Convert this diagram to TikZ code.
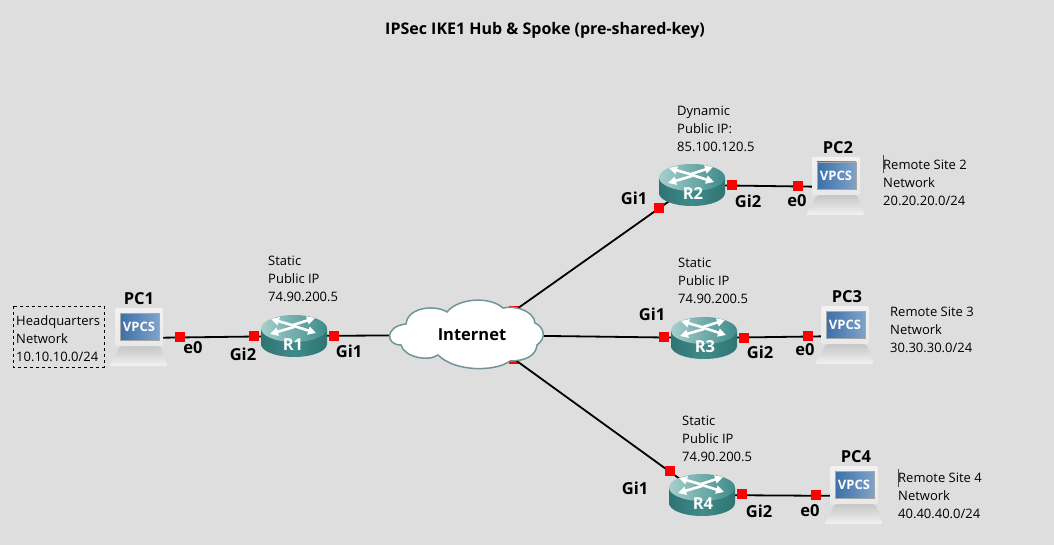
\documentclass[tikz,border=0pt]{standalone}
\usepackage{fontspec}
\setmainfont{Open Sans}
\usetikzlibrary{backgrounds,arrows.meta}
\definecolor{canvas}{HTML}{DEDEDE}
\definecolor{teal1}{HTML}{3F8B8A}
\definecolor{teal2}{HTML}{2F7473}
\definecolor{teallight}{HTML}{A5CFCC}
\definecolor{cloudline}{HTML}{6F9598}
\definecolor{screen1}{HTML}{3C6FA8}
\definecolor{screen2}{HTML}{7FA3C9}
\tikzset{
    link/.style={draw=black, line width=1.8pt},
    port/.style={fill=red, inner sep=0pt, minimum size=10pt},
    ifname/.style={font=\bfseries\fontsize{16.5}{17}\selectfont, inner sep=0pt},
    devname/.style={font=\bfseries\fontsize{16.5}{17}\selectfont, inner sep=0pt},
    note/.style={font=\fontsize{13}{18}\selectfont, inner sep=0pt, anchor=north west, align=left},
    routerspot/.style={inner sep=0pt, minimum width=66pt, minimum height=42pt},
    pcspot/.style={inner sep=0pt, minimum width=46pt, minimum height=58pt},
    arrowline/.style={draw=white, line width=2.6pt, -{Triangle[width=8pt,length=8pt]}},
    routerpic/.pic={
        \shade[left color=teal2, right color=teal2, middle color=teal1] (-33,-7) -- (-33,8) arc[start angle=180, end angle=0, x radius=33, y radius=13] -- (33,-7) -- cycle;
        \shade[left color=teallight, right color=teal1] (0,-7.5) ellipse[x radius=33, y radius=13.5];
        \draw[arrowline] (1,-10) -- (-23,-17);
        \draw[arrowline] (-1,-11) -- (21,-18);
        \draw[arrowline] (0,-9) -- (-24,-2);
        \draw[arrowline] (0,-10) -- (22,-3);
    },
    pcpic/.pic={
        % base of the computer
        \shade[top color=gray!45, bottom color=white!90!gray, rounded corners=2pt] (-19,20) -- (21,20) -- (29,40) -- (-30,40) -- cycle;
        % monitor and screen
        \shade[top color=white!90!gray, bottom color=white!82!gray, rounded corners=2pt] (-24,-18) rectangle (24,20);
        \shade[left color=screen1, right color=screen2, draw=gray!70] (-19,-13) rectangle (20,14);
        \node[text=white, inner sep=0pt, font=\bfseries\fontsize{13}{13}\selectfont] at (0,1) {VPCS};
    },
}
\begin{document}
\begin{tikzpicture}[x=1pt, y=-1pt]
    \useasboundingbox (0,0) rectangle (1054,545);
    \begin{pgfonlayer}{background}
        \fill[canvas] (0,0) rectangle (1054,545);
    \end{pgfonlayer}

    \node[font=\bfseries\fontsize{16}{17}\selectfont, inner sep=0pt] (title) at (545,30) {IPSec IKE1 Hub \& Spoke (pre-shared-key)};

    % devices
    \node[routerspot] (r1) at (294,336) {};
    \node[routerspot] (r2) at (692,185) {};
    \node[routerspot] (r3) at (704,338) {};
    \node[routerspot] (r4) at (702,495) {};
    \node[pcspot] (pc1) at (139,338) {};
    \node[pcspot] (pc2) at (838,187) {};
    \node[pcspot] (pc3) at (847,336) {};
    \node[pcspot] (pc4) at (856,496) {};
    \foreach \rx/\ry in {294/336, 692/185, 704/338, 702/495} {
        \pic at (\rx,\ry) {routerpic};
    }
    \foreach \px/\py in {139/326, 836/175, 845/324, 854/484} {
        \pic at (\px,\py) {pcpic};
    }
    \node[text=white, devname] at (293,345) {R1};
    \node[text=white, devname] at (693,194) {R2};
    \node[text=white, devname] at (705,347) {R3};
    \node[text=white, devname] at (703,504) {R4};
    \node[devname] at (139,299) {PC1};
    \node[devname] at (838,148) {PC2};
    \node[devname] at (847,297) {PC3};
    \node[devname] at (856,457) {PC4};

    % internet cloud
    \fill[white, draw=cloudline, line width=1.5pt]
        (406,324) .. controls (385,326) and (385,345) .. (401,345)
        .. controls (404,357) and (428,362) .. (438,355)
        .. controls (455,372) and (495,372) .. (510,361)
        .. controls (525,361) and (536,356) .. (537,345)
        .. controls (547,338) and (544,327) .. (535,323)
        .. controls (534,311) and (515,305) .. (503,308)
        .. controls (490,296) and (458,298) .. (447,312)
        .. controls (437,305) and (408,306) .. (406,324) -- cycle;
    \node[font=\bfseries\fontsize{16.5}{17}\selectfont, inner sep=0pt] (inet) at (472,335) {Internet};

    % ports, the two on the cloud stay behind it
    \begin{pgfonlayer}{background}
        \node[port] (inr2) at (514,311) {};
        \node[port] (inr4) at (514,359) {};
        \draw[link] (pc1.center) -- (r1.center);
        \draw[link] (r1.center) -- (inet.center);
        \draw[link] (inr2.center) -- (r2.center);
        \draw[link] (inet.center) -- (r3.center);
        \draw[link] (inr4.center) -- (r4.center);
        \draw[link] (r2.center) -- (pc2.center);
        \draw[link] (r3.center) -- (pc3.center);
        \draw[link] (r4.center) -- (pc4.center);
    \end{pgfonlayer}
    \foreach \pname/\px/\py in {pa/180/337, pb/254/336, pc/334/336, pd/659/208, pe/732/185, pf/798/186, pg/664/337, ph/744/338, pi/808/336, pj/670/471, pk/742/494, pl/816/495} {
        \node[port] (\pname) at (\px,\py) {};
    }

    % interface names
    \foreach \ilabel/\ix/\iy in {e0/193/348, Gi2/243/354, Gi1/349/351, Gi1/634/198, Gi2/748/201, e0/797/201, Gi1/652/314, Gi2/760/352, e0/805/350, Gi1/635/488, Gi2/759/511, e0/810/511} {
        \node[ifname] at (\ix,\iy) {\ilabel};
    }

    % notes
    \node[note] (n1) at (268,256) {Static\\Public IP\\74.90.200.5};
    \node[note] (n2) at (677,106) {Dynamic\\Public IP:\\85.100.120.5};
    \node[note] (n3) at (678,258) {Static\\Public IP\\74.90.200.5};
    \node[note] (n4) at (682,416) {Static\\Public IP\\74.90.200.5};
    \node[note] (site2) at (883,160) {Remote Site 2\\Network\\20.20.20.0/24};
    \node[note] (site3) at (890,307) {Remote Site 3\\Network\\30.30.30.0/24};
    \node[note] (site4) at (898,473) {Remote Site 4\\Network\\40.40.40.0/24};
    \node[note] (hq) at (16,315) {Headquarters\\Network\\10.10.10.0/24};
    \draw[black, dashed, line width=0.8pt] (13,306) rectangle (104,367);
    \draw[black!70, line width=0.6pt] (883,155) -- (883,173);
    \draw[black!70, line width=0.6pt] (898,469) -- (898,487);
\end{tikzpicture}
\end{document}
